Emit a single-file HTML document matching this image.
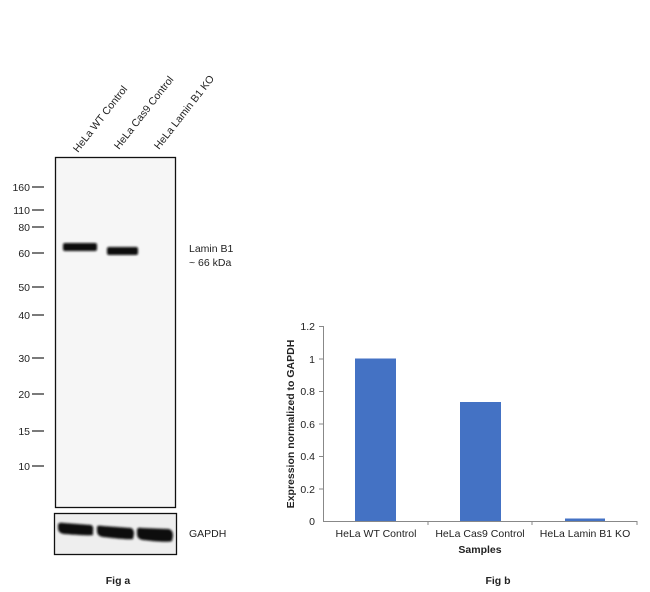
<!DOCTYPE html>
<html><head><style>body{margin:0;background:#fff}svg{display:block}text{font-family:"Liberation Sans",Arial,sans-serif;fill:#222}</style></head><body>
<svg width="650" height="592" viewBox="0 0 650 592">
<defs><filter id="b"><feGaussianBlur stdDeviation="1.1"/></filter></defs>
<g font-size="10.5">
<text transform="translate(78,153) rotate(-52)">HeLa WT Control</text>
<text transform="translate(119,150) rotate(-52)">HeLa Cas9 Control</text>
<text transform="translate(159,150) rotate(-52)">HeLa Lamin B1 KO</text>
</g>
<rect x="55.5" y="157.5" width="120" height="350" fill="#f6f6f6" stroke="#111" stroke-width="1.3"/>
<g filter="url(#b)" fill="#111">
<rect x="63" y="243" width="34" height="8" rx="2"/>
<rect x="107" y="247" width="31" height="8" rx="2"/>
</g>
<g font-size="10.5" text-anchor="end">
<text x="30" y="191">160</text><text x="30" y="214">110</text><text x="30" y="231">80</text><text x="30" y="257">60</text><text x="30" y="291">50</text><text x="30" y="319">40</text><text x="30" y="362">30</text><text x="30" y="398">20</text><text x="30" y="435">15</text><text x="30" y="470">10</text>
</g>
<g stroke="#333" stroke-width="1.3">
<line x1="32" x2="44" y1="187" y2="187"/><line x1="32" x2="44" y1="210" y2="210"/><line x1="32" x2="44" y1="227" y2="227"/><line x1="32" x2="44" y1="253" y2="253"/><line x1="32" x2="44" y1="287" y2="287"/><line x1="32" x2="44" y1="315" y2="315"/><line x1="32" x2="44" y1="358" y2="358"/><line x1="32" x2="44" y1="394" y2="394"/><line x1="32" x2="44" y1="431" y2="431"/><line x1="32" x2="44" y1="466" y2="466"/>
</g>
<text x="189" y="252" font-size="10.5">Lamin B1</text>
<text x="189" y="266" font-size="10.5">~ 66 kDa</text>
<rect x="54.5" y="513.5" width="122" height="41" fill="#eee" stroke="#111" stroke-width="1.3"/>
<g filter="url(#b)" fill="#111">
<path d="M58 525 Q58 522 64 523 L91 525 Q94 526 93 531 L93 535 Q90 536 64 534 Q58 533 58 528Z"/>
<path d="M97 527 Q97 525 103 526 L131 528 Q134 529 134 534 L133 539 Q129 540 103 537 Q97 536 97 531Z"/>
<path d="M137 530 Q137 527 142 528 L169 529 Q173 530 173 536 L172 541 Q168 543 143 540 Q137 539 137 534Z"/>
</g>
<text x="189" y="537" font-size="10.5">GAPDH</text>
<text x="118" y="584" font-size="10.5" font-weight="bold" text-anchor="middle">Fig a</text>
<g stroke="#888" stroke-width="1">
<line x1="323.5" y1="326" x2="323.5" y2="521"/>
<line x1="323" y1="521.5" x2="637" y2="521.5"/>
<line x1="319" x2="323" y1="326.5" y2="326.5"/><line x1="319" x2="323" y1="359" y2="359"/><line x1="319" x2="323" y1="391.5" y2="391.5"/><line x1="319" x2="323" y1="424" y2="424"/><line x1="319" x2="323" y1="456.5" y2="456.5"/><line x1="319" x2="323" y1="489" y2="489"/>
<line x1="428" x2="428" y1="521" y2="525"/><line x1="532" x2="532" y1="521" y2="525"/><line x1="637" x2="637" y1="521" y2="525"/>
</g>
<g fill="#4472c4">
<rect x="355" y="358.5" width="41" height="162.5"/>
<rect x="460" y="402" width="41" height="119"/>
<rect x="565" y="518.5" width="40" height="2.5"/>
</g>
<g font-size="10.5" text-anchor="end">
<text x="315" y="330">1.2</text><text x="315" y="363">1</text><text x="315" y="395">0.8</text><text x="315" y="428">0.6</text><text x="315" y="460">0.4</text><text x="315" y="493">0.2</text><text x="315" y="525">0</text>
</g>
<g font-size="10.5" text-anchor="middle">
<text x="376" y="537">HeLa WT Control</text><text x="480" y="537">HeLa Cas9 Control</text><text x="585" y="537">HeLa Lamin B1 KO</text>
</g>
<text x="480" y="553" font-size="10.5" font-weight="bold" text-anchor="middle">Samples</text>
<text transform="translate(294,424) rotate(-90)" font-size="10.5" font-weight="bold" text-anchor="middle">Expression normalized to GAPDH</text>
<text x="498" y="584" font-size="10.5" font-weight="bold" text-anchor="middle">Fig b</text>
</svg>
</body></html>
